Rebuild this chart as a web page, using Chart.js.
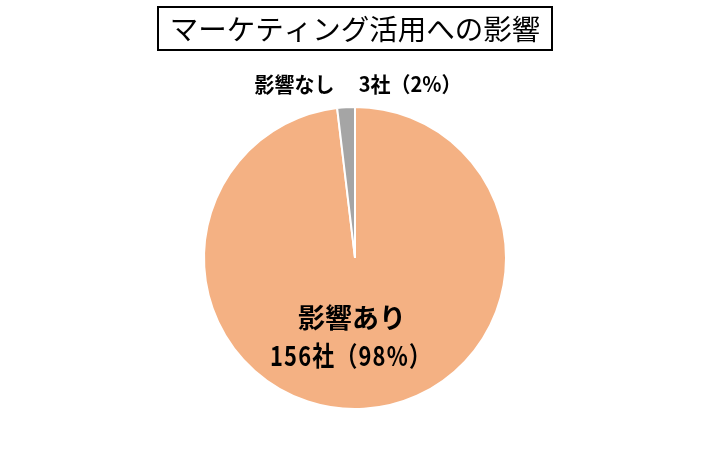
<!DOCTYPE html>
<html>
<head>
<meta charset="utf-8">
<script src="https://cdn.jsdelivr.net/npm/chart.js@4/dist/chart.umd.min.js"></script>
<style>
  html, body { margin: 0; padding: 0; background: #fff; }
  #wrap { width: 710px; height: 458px; position: relative; }
</style>
</head>
<body>
<div id="wrap"><canvas id="pie" width="710" height="458"></canvas></div>
<script>
// --- data ---
const titleText = 'マーケティング活用への影響';
const categories = ['影響あり', '影響なし'];
const companies = [156, 3];
const percents = [98, 2];
const sliceColors = ['#F4B183', '#A5A5A5'];

const FONT = '"Noto Sans CJK JP", "Noto Sans", sans-serif';

// draws the boxed title and the two slice labels
const labelPlugin = {
  id: 'labels',
  afterDraw(chart) {
    const ctx = chart.ctx;
    const area = chart.chartArea;
    const cx = (area.left + area.right) / 2;
    const cy = (area.top + area.bottom) / 2;
    const r = Math.min(area.right - area.left, area.bottom - area.top) / 2;

    ctx.save();
    // title box
    ctx.strokeStyle = '#000';
    ctx.lineWidth = 2;
    ctx.strokeRect(158, 7, 394, 43);
    ctx.fillStyle = '#000';
    ctx.textAlign = 'center';
    ctx.textBaseline = 'middle';
    ctx.font = '28.5px ' + FONT;
    ctx.fillText(titleText, 355, 29);

    // small slice label, above the pie
    ctx.font = 'bold 21px ' + FONT;
    ctx.fillText(`${categories[1]}　 ${companies[1]}社（${percents[1]}%）`, cx + 3, area.top - 22, 207);

    // big slice label, inside
    ctx.font = 'bold 27px ' + FONT;
    ctx.fillText(categories[0], cx - 3, cy + r * 0.39);
    ctx.letterSpacing = '1.5px';
    ctx.fillText(`${companies[0]}社（${percents[0]}%）`, cx - 4, cy + r * 0.64, 162);
    ctx.restore();
  }
};

new Chart(document.getElementById('pie'), {
  type: 'pie',
  data: {
    labels: categories,
    datasets: [{
      data: companies,
      backgroundColor: sliceColors,
      borderColor: '#fff',
      borderWidth: 2,
    }],
  },
  options: {
    responsive: false,
    animation: false,
    layout: { padding: { top: 106, bottom: 48, left: 0, right: 0 } },
    plugins: {
      legend: { display: false },
      tooltip: { enabled: false },
      title: { display: false },
    },
  },
  plugins: [labelPlugin],
});
</script>
</body>
</html>
